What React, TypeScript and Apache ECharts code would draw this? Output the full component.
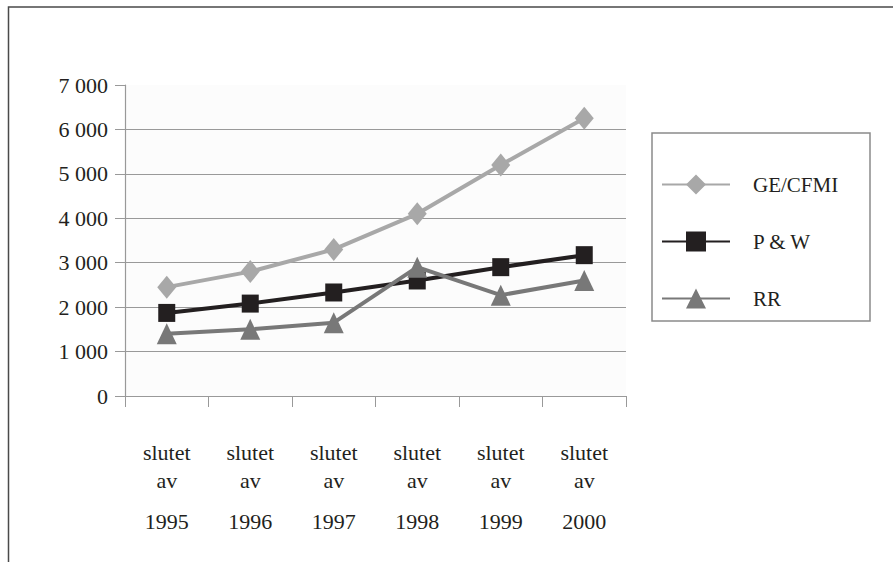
import React, { useEffect, useRef } from "react";
import * as echarts from "echarts";

const categories = ["1995", "1996", "1997", "1998", "1999", "2000"];
const geValues = [2450, 2800, 3300, 4100, 5200, 6250];
const pwValues = [1870, 2080, 2330, 2600, 2900, 3170];
const rrValues = [1400, 1500, 1650, 2900, 2270, 2600];
const seriesNames = ["GE/CFMI", "P & W", "RR"];
const yTicks = [0, 1000, 2000, 3000, 4000, 5000, 6000, 7000];

const FONT = "'Liberation Serif', 'Times New Roman', serif";
const TXT = "#231f20";

export default function App() {
  const ref = useRef<HTMLDivElement>(null);
  useEffect(() => {
    if (!ref.current) return;
    const chart = echarts.init(ref.current, null, { renderer: "svg" });
    const fmt = (v: number) => {
      const s = String(Math.round(v));
      return s.length > 3 ? s.slice(0, s.length - 3) + " " + s.slice(-3) : s;
    };
    chart.setOption({
      animation: false,
      backgroundColor: "#ffffff",
      textStyle: { fontFamily: FONT, color: TXT },
      grid: {
        left: 125,
        top: 85,
        width: 501,
        height: 311,
        show: true,
        backgroundColor: "#fcfcfc",
        borderWidth: 0,
      },
      graphic: [
        {
          type: "rect",
          shape: { x: 8.5, y: 7, width: 900, height: 600 },
          style: { fill: "none", stroke: "#4a4a4a", lineWidth: 1.5 },
          silent: true,
        },
        {
          type: "rect",
          shape: { x: 652, y: 133, width: 218, height: 188 },
          style: { fill: "#ffffff", stroke: "#8a8a8a", lineWidth: 1.5 },
          silent: true,
          z: -1,
        },
      ],
      legend: {
        orient: "vertical",
        left: 661,
        top: 174,
        itemWidth: 68,
        itemHeight: 25,
        itemGap: 36,
        padding: 0,
        data: seriesNames,
        textStyle: {
          fontFamily: FONT,
          fontSize: 21,
          color: TXT,
          padding: [0, 0, 0, 18],
        },
      },
      xAxis: {
        type: "category",
        data: categories,
        boundaryGap: true,
        axisLine: { lineStyle: { color: "#999999", width: 1.2 } },
        axisTick: { show: true, length: 11, lineStyle: { color: "#999999" } },
        axisLabel: {
          margin: 42,
          formatter: (v: string) => `{a|slutet}\n{a|av}\n{b|${v}}`,
          rich: {
            a: { fontFamily: FONT, fontSize: 22, color: TXT, lineHeight: 28 },
            b: { fontFamily: FONT, fontSize: 22, color: TXT, lineHeight: 54 },
          },
        },
      },
      yAxis: {
        type: "value",
        min: yTicks[0],
        max: yTicks[yTicks.length - 1],
        interval: 1000,
        axisLine: { show: true, lineStyle: { color: "#999999", width: 1.2 } },
        axisTick: { show: true, length: 10, lineStyle: { color: "#999999" } },
        axisLabel: {
          margin: 17,
          fontFamily: FONT,
          fontSize: 22,
          color: TXT,
          formatter: fmt,
        },
        splitLine: {
          show: true,
          lineStyle: {
            color: ["#999999", "#999999", "#999999", "#999999", "#999999", "#999999", "#999999", "transparent"],
            width: 1.2,
          },
        },
      },
      series: [
        {
          name: seriesNames[0],
          type: "line",
          data: geValues,
          symbol: "diamond",
          symbolSize: [19, 23],
          showAllSymbol: true,
          lineStyle: { color: "#a8a8a8", width: 4 },
          itemStyle: { color: "#a8a8a8" },
          z: 3,
        },
        {
          name: seriesNames[1],
          type: "line",
          data: pwValues,
          symbol: "rect",
          symbolSize: [17, 18],
          lineStyle: { color: "#231f20", width: 4 },
          itemStyle: { color: "#231f20" },
          z: 4,
        },
        {
          name: seriesNames[2],
          type: "line",
          data: rrValues,
          symbol: "triangle",
          symbolSize: [20, 21],
          lineStyle: { color: "#787878", width: 4 },
          itemStyle: { color: "#787878" },
          z: 5,
        },
      ],
    });
    return () => chart.dispose();
  }, []);
  return (
    <div
      ref={ref}
      style={{ position: "fixed", left: 0, top: 0, width: 893, height: 562 }}
    />
  );
}
